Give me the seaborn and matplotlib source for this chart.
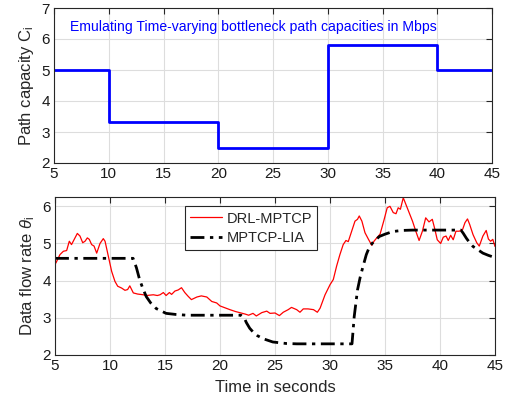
import matplotlib
matplotlib.use("Agg")
import matplotlib.pyplot as plt
import seaborn as sns
import pandas as pd

# ---- data ----
cap_t = [5, 10, 20, 30, 40, 45]
cap_v = [5.0, 3.33, 2.5, 5.8, 5.0, 5.0]

drl_t = [5.0, 5.09, 5.45, 5.76, 6.06, 6.3, 6.5, 6.82, 7.03, 7.27, 7.52, 7.73, 7.94, 8.12, 8.33,
         8.55, 8.79, 9.09, 9.39, 9.55, 9.85, 10.15, 10.45, 10.7, 11.06, 11.36, 11.6, 11.8, 12.12,
         12.5, 13.03, 13.3, 13.94, 14.3, 14.55, 14.85, 15.1, 15.4, 15.6, 15.9, 16.2, 16.5, 16.8,
         17.1, 17.4, 17.9, 18.3, 18.8, 19.25, 19.7, 20.0, 20.45, 20.9, 21.4, 21.8, 22.3, 22.6,
         23.0, 23.3, 23.8, 24.25, 24.55, 25.0, 25.4, 25.75, 26.2, 26.5, 26.97, 27.27, 27.57,
         28.0, 28.5, 28.85, 29.1, 29.55, 30.0, 30.3, 30.6, 30.9, 31.2, 31.45, 31.66, 31.97,
         32.27, 32.5, 32.66, 32.9, 33.18, 33.5, 33.8, 34.0, 34.25, 34.55, 34.9, 35.2, 35.45,
         35.75, 36.0, 36.2, 36.4, 36.66, 36.9, 37.2, 37.5, 37.8, 38.1, 38.4, 38.7, 39.0, 39.3,
         39.5, 39.75, 40.06, 40.3, 40.55, 40.75, 40.97, 41.2, 41.45, 41.75, 42.06, 42.27, 42.5,
         42.7, 43.0, 43.34, 43.57, 43.9, 44.2, 44.4, 44.6, 44.8, 45.0]
drl_v = [4.45, 4.48, 4.70, 4.79, 4.81, 5.06, 4.97, 5.15, 5.27, 5.2, 5.02, 5.06, 5.15, 5.11, 4.97,
         4.93, 4.74, 5.0, 5.13, 5.06, 4.66, 4.25, 3.98, 3.85, 3.8, 3.74, 3.76, 3.86, 3.67,
         3.64, 3.62, 3.6, 3.62, 3.6, 3.62, 3.68, 3.6, 3.68, 3.63, 3.72, 3.75, 3.81, 3.68,
         3.58, 3.49, 3.56, 3.59, 3.56, 3.44, 3.4, 3.32, 3.27, 3.22, 3.17, 3.14, 3.1, 3.07,
         3.12, 3.05, 3.14, 3.18, 3.12, 3.13, 3.06, 3.15, 3.22, 3.28, 3.22, 3.15, 3.24,
         3.24, 3.22, 3.15, 3.26, 3.62, 3.89, 4.03, 4.39, 4.70, 4.97, 5.08, 5.05, 5.33,
         5.6, 5.65, 5.74, 5.6, 5.29, 5.11, 4.95, 5.06, 5.15, 5.25, 5.62, 5.96, 6.0,
         5.83, 5.8, 5.96, 5.92, 6.23, 6.05, 5.83, 5.6, 5.33, 5.08, 5.33, 5.69, 5.58, 5.65,
         5.42, 5.1, 5.0, 5.17, 5.2, 5.08, 5.22, 5.1, 5.33, 5.33, 5.38, 5.56, 5.66,
         5.51, 5.24, 5.02, 4.93, 5.2, 5.35, 5.12, 5.06, 5.11, 4.92]

lia_t = [5.0, 12.1, 12.4, 12.7, 13.0, 13.3, 13.7, 14.2, 15.1, 16.0, 17.0, 21.9, 22.2, 22.4,
         22.7, 23.0, 23.4, 23.9, 24.8, 26.0, 27.0, 32.0, 32.2, 32.5, 32.75, 33.0, 33.3, 33.6,
         34.0, 34.5, 35.0, 35.7, 36.5, 37.5, 41.9, 42.1, 42.4, 42.7, 43.0, 43.4, 43.9, 44.4, 45.0]
lia_v = [4.6, 4.6, 4.35, 4.02, 3.78, 3.57, 3.4, 3.25, 3.12, 3.09, 3.07, 3.07, 3.0, 2.87,
         2.72, 2.62, 2.52, 2.44, 2.35, 2.31, 2.3, 2.3, 3.03, 3.75, 4.1, 4.38, 4.7, 4.92,
         5.06, 5.19, 5.25, 5.32, 5.35, 5.36, 5.36, 5.28, 5.14, 5.02, 4.92, 4.84, 4.74, 4.68, 4.62]

xticks = [5, 10, 15, 20, 25, 30, 35, 40, 45]

cap_df = pd.DataFrame({"t": cap_t, "c": cap_v})
drl_df = pd.DataFrame({"t": drl_t, "v": drl_v})
lia_df = pd.DataFrame({"t": lia_t, "v": lia_v})

sns.set_theme(style="white")
plt.rcParams["font.family"] = ["Liberation Sans", "DejaVu Sans"]
plt.rcParams["mathtext.fontset"] = "custom"
plt.rcParams["mathtext.rm"] = "Liberation Sans"
plt.rcParams["mathtext.it"] = "Liberation Sans:italic"

fig = plt.figure(figsize=(5.11, 4.03), dpi=100)
ax1 = fig.add_axes([54 / 511, 1 - 163 / 403, 438 / 511, 155 / 403])
ax2 = fig.add_axes([55 / 511, 1 - 355 / 403, 440 / 511, 158 / 403])

sns.lineplot(data=cap_df, x="t", y="c", ax=ax1, color="#0000FF", linewidth=2.0,
             drawstyle="steps-post", estimator=None, sort=False)
ax1.text(0.037, 0.88, "Emulating Time-varying bottleneck path capacities in Mbps",
         transform=ax1.transAxes, color="#0000FF", fontsize=10.1, va="center", ha="left")
ax1.set_xlim(5, 45)
ax1.set_ylim(2, 7)
ax1.set_yticks([2, 3, 4, 5, 6, 7])
ax1.set_xlabel("")
ax1.set_ylabel(r"Path capacity C$_\mathregular{i}$", fontsize=12)

sns.lineplot(data=drl_df, x="t", y="v", ax=ax2, color="#FF0000", linewidth=0.9,
             estimator=None, sort=False, label="DRL-MPTCP")
sns.lineplot(data=lia_df, x="t", y="v", ax=ax2, color="black", linewidth=2.0,
             linestyle=(0, (5, 2, 1.2, 2)), estimator=None, sort=False, label="MPTCP-LIA")
ax2.set_xlim(5, 45)
ax2.set_ylim(2, 6.25)
ax2.set_yticks([2, 3, 4, 5, 6])
ax2.set_xlabel("Time in seconds", fontsize=12, labelpad=5)
ax2.set_ylabel(r"Data flow rate $\theta_\mathregular{i}$", fontsize=12)
leg = ax2.legend(loc="upper left", bbox_to_anchor=(0.295, 0.94), fontsize=10.5,
                 fancybox=False, framealpha=1, edgecolor="#262626",
                 handlelength=2.2, borderpad=0.35, labelspacing=0.35, handletextpad=0.3,
                 borderaxespad=0)
leg.get_frame().set_linewidth(0.8)

for ax in (ax1, ax2):
    ax.set_xticks(xticks)
    ax.grid(True, color="#DDDDDD", linewidth=0.8)
    ax.set_axisbelow(True)
    ax.tick_params(direction="in", length=4, width=0.8, top=True, right=True,
                   labelsize=11, colors="#262626", pad=3)
    ax.tick_params(axis="both", labelcolor="#1a1a1a")
    for s in ax.spines.values():
        s.set_color("#262626")
        s.set_linewidth(0.8)

fig.savefig("out.png", dpi=100)
